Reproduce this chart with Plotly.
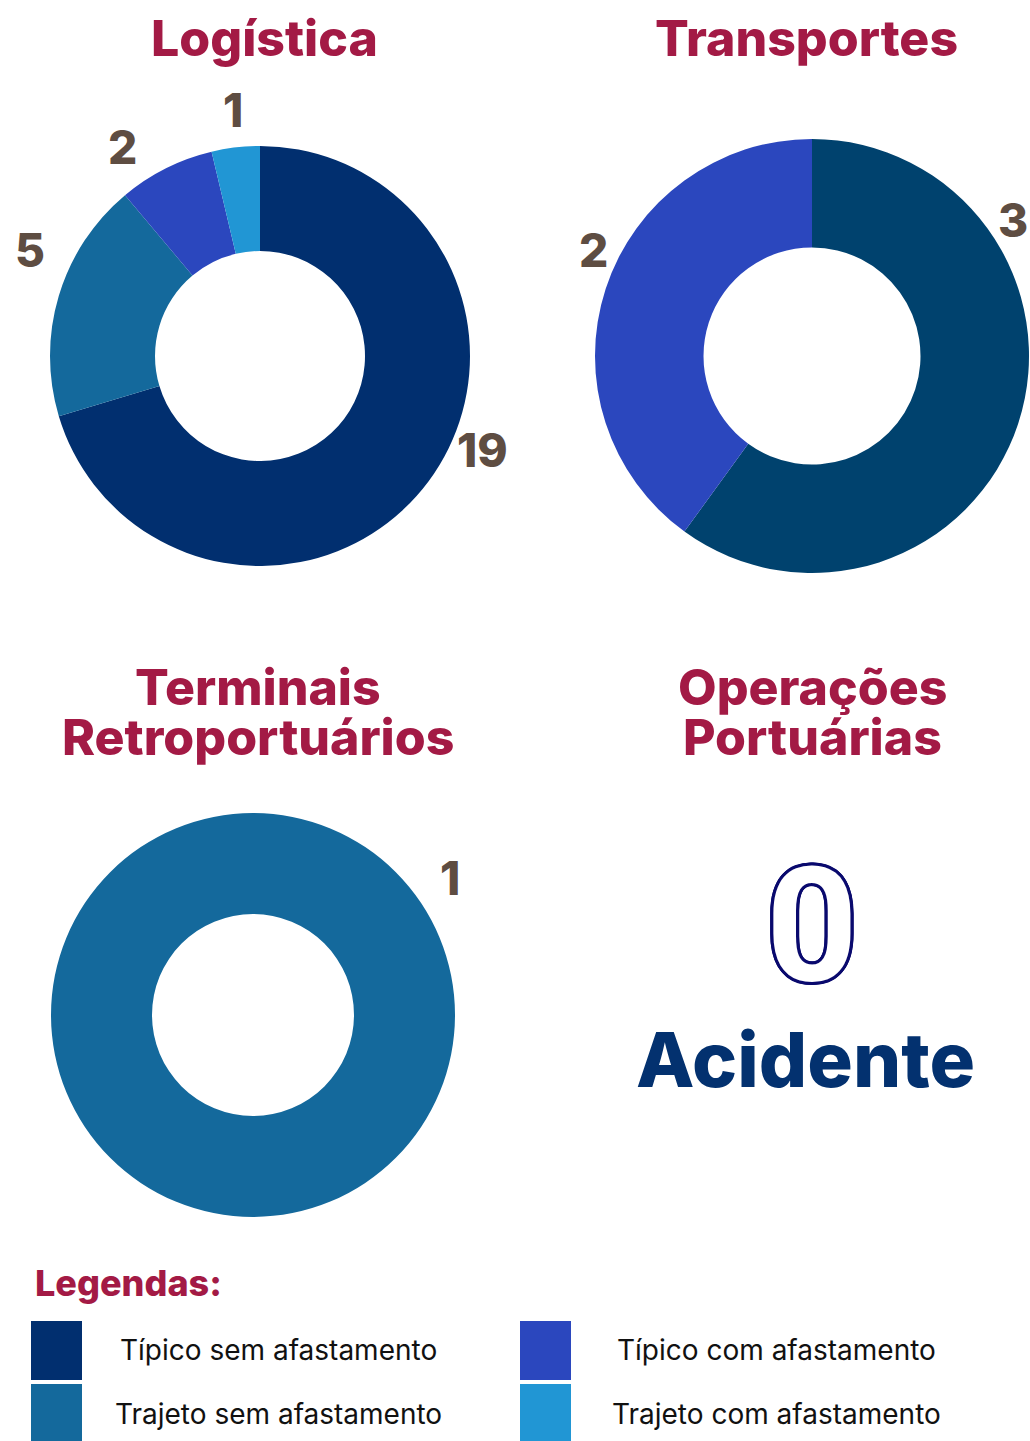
import plotly.graph_objects as go
import math

W, H = 1030, 1441

def px(x):
    return x / W

def py(y):
    return 1 - y / H

# ---------------- data ----------------
categories = ["Típico sem afastamento", "Trajeto sem afastamento",
              "Típico com afastamento", "Trajeto com afastamento"]
cat_colors = ["#012F6F", "#14699C", "#2B47BE", "#2196D4"]

log_labels = ["Típico sem afastamento", "Trajeto sem afastamento",
              "Típico com afastamento", "Trajeto com afastamento"]
log_values = [19, 5, 2, 1]
log_colors = ["#012F6F", "#14699C", "#2B47BE", "#2196D4"]

transp_labels = ["Típico sem afastamento", "Típico com afastamento"]
transp_values = [3, 2]
transp_colors = ["#00426E", "#2B47BE"]

term_labels = ["Trajeto sem afastamento"]
term_values = [1]
term_colors = ["#14699C"]

oper_value = 0
oper_text = "Acidente"

TITLE_C = "#A31A45"
NUM_C = "#5E4D42"
FONT = "Inter"

fig = go.Figure()

def add_pie(labels, values, colors, box):
    x0, y0, x1, y1 = box
    fig.add_trace(go.Pie(
        labels=labels, values=values, sort=False, direction="clockwise",
        rotation=0, hole=0.5, textinfo="none", hoverinfo="label+value",
        marker=dict(colors=colors, line=dict(width=0)),
        domain=dict(x=[px(x0), px(x1)], y=[py(y1), py(y0)]),
        showlegend=False,
    ))

add_pie(log_labels, log_values, log_colors, (50, 146, 470, 566))
add_pie(transp_labels, transp_values, transp_colors, (595, 139, 1029, 573))
add_pie(term_labels, term_values, term_colors, (51, 813, 455, 1217))

ann = []

def text(x, y, s, size, color, weight=700, xanchor="center", shadow=None, family=FONT):
    f = dict(family=family, size=size, color=color, weight=weight)
    if shadow:
        f["shadow"] = shadow
    ann.append(dict(x=px(x), y=py(y), xref="paper", yref="paper", text=s,
                    showarrow=False, xanchor=xanchor, yanchor="middle", font=f))

# titles
TS = 50
text(264, 38, "Logística", TS, TITLE_C, weight=800)
text(806, 38, "Transportes", TS, TITLE_C, weight=800)
text(258, 687, "Terminais", TS, TITLE_C, weight=800)
text(258, 737, "Retroportuários", TS, TITLE_C, weight=800)
text(812, 687, "Operações", TS, TITLE_C, weight=800)
text(812, 737, "Portuárias", TS, TITLE_C, weight=800)

# value labels (text from data)
NS = 46
log_pos = [(482, 450), (30, 250), (122, 147), (233, 110)]
for v, (x, y) in zip(log_values, log_pos):
    text(x, y, str(v), NS, NUM_C, weight=800)
transp_pos = [(1013, 220), (593, 250)]
for v, (x, y) in zip(transp_values, transp_pos):
    text(x, y, str(v), NS, NUM_C, weight=800)
term_pos = [(450, 878)]
for v, (x, y) in zip(term_values, term_pos):
    text(x, y, str(v), NS, NUM_C, weight=800)

# Operações Portuárias: outlined zero + label
oc = "#0A0A6E"
sh = ", ".join(f"{3.2*math.cos(a*math.pi/8):.2f}px {3.2*math.sin(a*math.pi/8):.2f}px 0px {oc}" for a in range(16))
text(812, 925, str(oper_value), 160, "#FFFFFF", weight=700, shadow=sh, family="Roboto")
text(805, 1059, oper_text, 76, "#03316F", weight=800)

# legend
text(33, 1283, "Legendas:", 36, TITLE_C, xanchor="left", weight=800)
shapes = []
sw_boxes = [(31, 1321, 82, 1380), (31, 1384, 82, 1441), (520, 1321, 571, 1380), (520, 1384, 571, 1441)]
txt_pos = [(278, 1350), (278, 1414), (776, 1350), (776, 1414)]
for i, (b, t) in enumerate(zip(sw_boxes, txt_pos)):
    shapes.append(dict(type="rect", xref="paper", yref="paper",
                       x0=px(b[0]), x1=px(b[2]), y0=py(b[3]), y1=py(b[1]),
                       fillcolor=cat_colors[i], line=dict(width=0)))
    text(t[0], t[1], categories[i], 28, "#111111", weight=400)

fig.update_layout(
    width=W, height=H, margin=dict(l=0, r=0, t=0, b=0),
    paper_bgcolor="white", plot_bgcolor="white",
    annotations=ann, shapes=shapes,
)

fig.write_html("out.html", config={"displayModeBar": False},
               post_script="document.body.style.margin='0px';document.body.style.overflow='hidden';")
